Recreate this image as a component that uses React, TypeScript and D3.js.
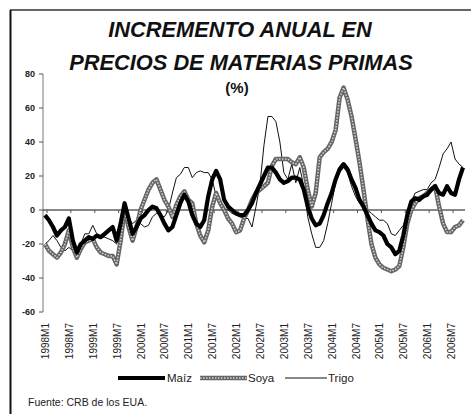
import React from "react";
import * as d3 from "d3";

const startYear = 1998;
const months: string[] = d3.range(106).map(i => `${startYear + Math.floor(i / 12)}M${(i % 12) + 1}`);

const tickLabels = [
  "1998M1", "1998M7", "1999M1", "1999M7", "2000M1", "2000M7", "2001M1", "2001M7",
  "2002M1", "2002M7", "2003M1", "2003M7", "2004M1", "2004M7", "2005M1", "2005M7",
  "2006M1", "2006M7",
];

const yTicks = [-60, -40, -20, 0, 20, 40, 60, 80];

const maiz = [
  -3, -6, -10, -15, -12, -10, -5, -18, -25, -20, -18, -16, -17, -15, -16, -14, -12, -10, -18, -8,
  4, -5, -14, -10, -5, -3, 0, 2, 1, -3, -8, -12, -10, -3, 4, 9, 5, -3, -8, -10,
  -6, 8, 18, 23, 18, 6, 2, 0, -2, -3, -3, 0, 4, 10, 15, 20, 25, 25, 22, 18,
  16, 17, 19, 19, 18, 12, 2, -5, -9, -8, -3, 4, 10, 18, 24, 27, 24, 18, 13, 6,
  2, -3, -8, -12, -13, -15, -20, -22, -26, -24, -15, -3, 5, 7, 6, 8, 9, 12, 14, 10,
  9, 14, 10, 9, 18, 25,
];

const soya = [
  -20, -24, -26, -28, -25, -20, -12, -22, -28, -23, -19, -18, -17, -22, -25, -26, -27, -27, -32, -18,
  0, -10, -18, -10, 0, 6, 12, 16, 18, 12, 6, 2, -4, 3, 8, 11, 6, 4, -8, -15,
  -19, -12, 2, 10, 4, 0, -5, -8, -13, -12, -5, 0, 6, 10, 12, 14, 16, 26, 30, 30,
  30, 30, 28, 27, 31, 25, 12, 2, 10, 31, 34, 36, 40, 47, 66, 72, 65, 55, 42, 28,
  12, -5, -20, -28, -32, -34, -35, -36, -35, -33, -22, -8, 0, 4, 7, 8, 10, 12, 14, 2,
  -8, -13, -13, -10, -9, -6,
];

const trigo = [
  -20, -18, -15, -18, -22, -24, -22, -24, -26, -20, -14, -14, -9, -14, -16, -16, -17, -18, -20, -10,
  -3, -5, -8, -6, -8, -10, -9, -4, -2, -3, -4, 0, 10, 19, 21, 25, 25, 19, 22, 23,
  22, 22, 18, 8, 3, 1, 0, -2, -3, -4, -5, -5, -10, 2, 15, 38, 55, 55, 52, 40,
  22, 18, 27, 16, 25, 14, -4, -14, -22, -22, -18, -8, 4, 16, 22, 25, 22, 14, 8, 4,
  3, 0, -2, -4, -6, -6, -8, -14, -15, -12, -9, -2, 5, 10, 11, 12, 12, 16, 18, 25,
  33, 36, 40, 30, 27, 25,
];

const W = 471;
const H = 414;

export default function App() {
  const x = d3.scaleLinear().domain([0, months.length - 1]).range([45, 463]);
  const y = d3.scaleLinear().domain([-60, 80]).range([312, 74]);
  const line = d3
    .line<number>()
    .x((_, i) => x(i))
    .y(d => y(d));

  const font = "Arial, 'Liberation Sans', Helvetica, sans-serif";
  const axisX = 43;

  return (
    <svg width={W} height={H} style={{ position: "absolute", left: 0, top: 0, background: "#fff" }} fontFamily={font}>
      <rect x={0} y={0} width={W} height={H} fill="#fff" />
      {/* frame */}
      <line x1={10} y1={10} x2={W} y2={10} stroke="#333" strokeWidth={1.5} />
      <line x1={10.5} y1={10} x2={10.5} y2={H} stroke="#111" strokeWidth={2} />

      {/* title */}
      <text x={240} y={37} textAnchor="middle" fontSize={21.8} fontWeight="bold" fontStyle="italic" fill="#111">
        INCREMENTO ANUAL EN
      </text>
      <text x={241} y={70} textAnchor="middle" fontSize={21.8} fontWeight="bold" fontStyle="italic" fill="#111">
        PRECIOS DE MATERIAS PRIMAS
      </text>
      <text x={237} y={93} textAnchor="middle" fontSize={15} fontWeight="bold" fill="#111">
        (%)
      </text>

      {/* y axis */}
      <line x1={axisX} y1={y(80)} x2={axisX} y2={y(-60)} stroke="#777" strokeWidth={1} />
      {yTicks.map(t => (
        <g key={t}>
          <line x1={axisX - 4} y1={y(t)} x2={axisX} y2={y(t)} stroke="#555" strokeWidth={1} />
          <text x={35} y={y(t) + 3} textAnchor="end" fontSize={9} fontWeight="bold" fill="#222">
            {t}
          </text>
        </g>
      ))}

      {/* zero line */}
      <line x1={axisX} y1={y(0)} x2={465} y2={y(0)} stroke="#111" strokeWidth={1} />
      {tickLabels.map(lbl => {
        const i = months.indexOf(lbl);
        return (
          <g key={lbl}>
            <line x1={x(i) + 2} y1={y(0)} x2={x(i) + 2} y2={y(0) + 3} stroke="#555" strokeWidth={1} />
            <text
              transform={`translate(${x(i) + 4},323) rotate(-90)`}
              textAnchor="end"
              fontSize={10}
              fill="#222"
            >
              {lbl}
            </text>
          </g>
        );
      })}

      {/* series */}
      <path d={line(trigo) || ""} fill="none" stroke="#111" strokeWidth={1} />
      <path d={line(soya) || ""} fill="none" stroke="#666" strokeWidth={4.5} strokeLinejoin="round" />
      <path d={line(soya) || ""} fill="none" stroke="#d6d6d6" strokeWidth={1.5} strokeDasharray="1.5 1.5" />
      <path d={line(maiz) || ""} fill="none" stroke="#000" strokeWidth={4.2} strokeLinejoin="round" />

      {/* legend */}
      <line x1={118} y1={378} x2={165} y2={378} stroke="#000" strokeWidth={4} />
      <text x={167} y={382} fontSize={11.5} fill="#222">Maíz</text>
      <line x1={200} y1={378} x2={247} y2={378} stroke="#666" strokeWidth={4.5} />
      <line x1={200} y1={378} x2={247} y2={378} stroke="#d6d6d6" strokeWidth={1.5} strokeDasharray="1.5 1.5" />
      <text x={248} y={382} fontSize={11.5} fill="#222">Soya</text>
      <line x1={285} y1={378} x2={327} y2={378} stroke="#111" strokeWidth={1} />
      <text x={328} y={382} fontSize={11.5} fill="#222">Trigo</text>

      <text x={28} y={406} fontSize={10.5} fill="#222">Fuente: CRB de los EUA.</text>
    </svg>
  );
}
